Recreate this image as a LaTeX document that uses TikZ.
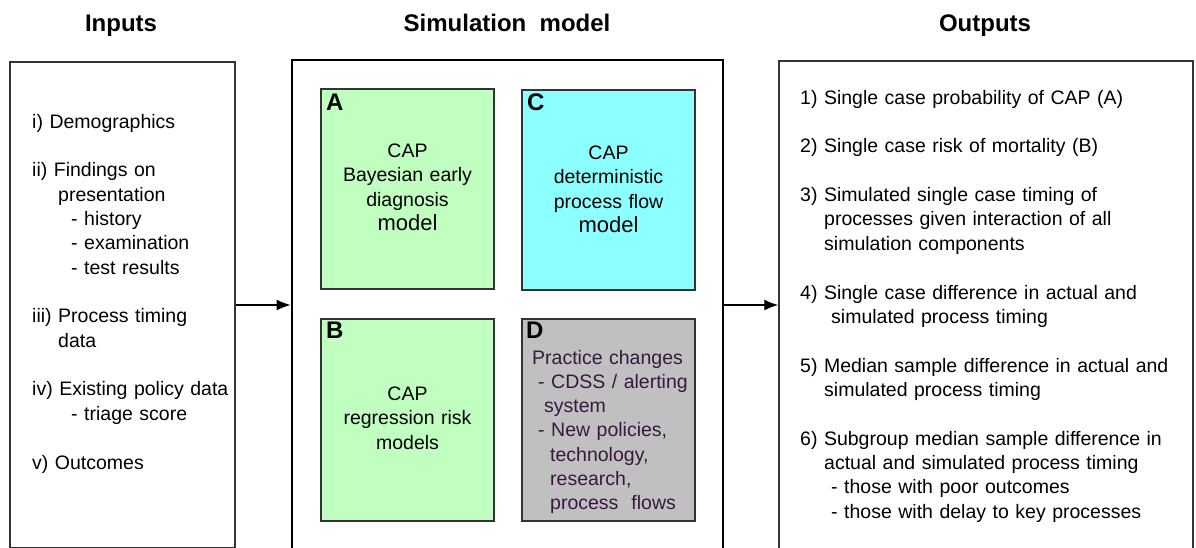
\documentclass[tikz,border=0pt]{standalone}
\usepackage{fontspec}
\setmainfont{Liberation Sans}
\usetikzlibrary{arrows.meta}
\definecolor{agreen}{RGB}{192,255,192}
\definecolor{ccyan}{RGB}{140,255,255}
\definecolor{dgray}{RGB}{192,192,192}
\definecolor{dtext}{RGB}{56,24,64}
\definecolor{edgec}{RGB}{51,51,51}
\begin{document}
\begin{tikzpicture}[x=1pt,y=-1pt,
  outerbox/.style={draw=edgec, line width=1.5pt, rectangle, inner sep=0pt},
  simbox/.style={draw=black, line width=2.6pt, rectangle, inner sep=0pt},
  innerbox/.style={draw=edgec, line width=1.5pt, rectangle, inner sep=0pt},
  bodytext/.style={font=\fontsize{19.5}{24.3}\selectfont, inner sep=0pt, align=left, anchor=base west},
  centertext/.style={font=\fontsize{19.5}{24.5}\selectfont, inner sep=0pt, align=center, anchor=base, text width=173pt},
  titletext/.style={font=\fontsize{24}{28}\selectfont\bfseries, inner sep=0pt, anchor=base},
  tagtext/.style={font=\fontsize{24}{28}\selectfont\bfseries, inner sep=0pt, anchor=base west},
  arr/.style={-{Latex[length=14pt,width=11pt]}, line width=1.4pt}]
\useasboundingbox (0,0) rectangle (1196,547);
\clip (0,0) rectangle (1196,547);

% titles
\node[titletext] (tin) at (121,31) {Inputs};
\node[titletext] (tsim) at (507,31) {Simulation\ \ model};
\node[titletext] (tout) at (985,31) {Outputs};

% main boxes
\node[outerbox, minimum width=225pt, minimum height=486pt] (inputs) at (122.5,305) {};
\node[simbox, minimum width=431pt, minimum height=490pt] (sim) at (507.5,305) {};
\node[outerbox, minimum width=414pt, minimum height=488pt] (outputs) at (986,305) {};

% inner boxes
\node[innerbox, fill=agreen, minimum width=173pt, minimum height=200pt] (A) at (407.5,189) {};
\node[innerbox, fill=ccyan, minimum width=173pt, minimum height=200pt] (C) at (608.5,190) {};
\node[innerbox, fill=agreen, minimum width=173pt, minimum height=202pt] (B) at (407.5,420) {};
\node[innerbox, fill=dgray, minimum width=173pt, minimum height=202pt] (D) at (608.5,420) {};

\node[tagtext] (tagA) at (326,110) {A};
\node[tagtext] (tagC) at (527,110) {C};
\node[tagtext] (tagB) at (326,338) {B};
\node[tagtext] (tagD) at (526,338) {D};

\node[centertext] (textA) at (407.5,157) {CAP\\Bayesian early\\diagnosis\\{\fontsize{22}{24.5}\selectfont model}};
\node[centertext] (textC) at (608.5,159) {CAP\\deterministic\\process flow\\{\fontsize{22}{24.5}\selectfont model}};
\node[centertext] (textB) at (407.5,400) {CAP\\regression risk\\models};
\node[bodytext, text=dtext, text width=165pt] (textD) at (532,364) {Practice changes\\
\hspace*{6pt}- CDSS / alerting\\
\hspace*{12pt}system\\
\hspace*{6pt}- New policies,\\
\hspace*{18pt}technology,\\
\hspace*{18pt}research,\\
\hspace*{18pt}process\ \ flows};

% inputs text
\node[bodytext, text width=200pt] (intext) at (32,128) {i) Demographics\\[24.5pt]
ii) Findings on\\
\hspace*{26pt}presentation\\
\hspace*{39pt}- history\\
\hspace*{39pt}- examination\\
\hspace*{39pt}- test results\\[24.5pt]
iii) Process timing\\
\hspace*{26pt}data\\[24.5pt]
iv) Existing policy data\\
\hspace*{39pt}- triage score\\[24.5pt]
v) Outcomes};

% outputs text
\node[bodytext, text width=390pt] (outtext) at (800,104) {1) Single case probability of CAP (A)\\[24.5pt]
2) Single case risk of mortality (B)\\[24.5pt]
3) Simulated single case timing of\\
\hspace*{24pt}processes given interaction of all\\
\hspace*{24pt}simulation components\\[24.5pt]
4) Single case difference in actual and\\
\hspace*{31pt}simulated process timing\\[24.5pt]
5) Median sample difference in actual and\\
\hspace*{24pt}simulated process timing\\[24.5pt]
6) Subgroup median sample difference in\\
\hspace*{24pt}actual and simulated process timing\\
\hspace*{31pt}- those with poor outcomes\\
\hspace*{31pt}- those with delay to key processes};

% connectors
\draw[arr] (inputs.east) -- (sim.west);
\draw[arr] (sim.east) -- (outputs.west);
\end{tikzpicture}
\end{document}
